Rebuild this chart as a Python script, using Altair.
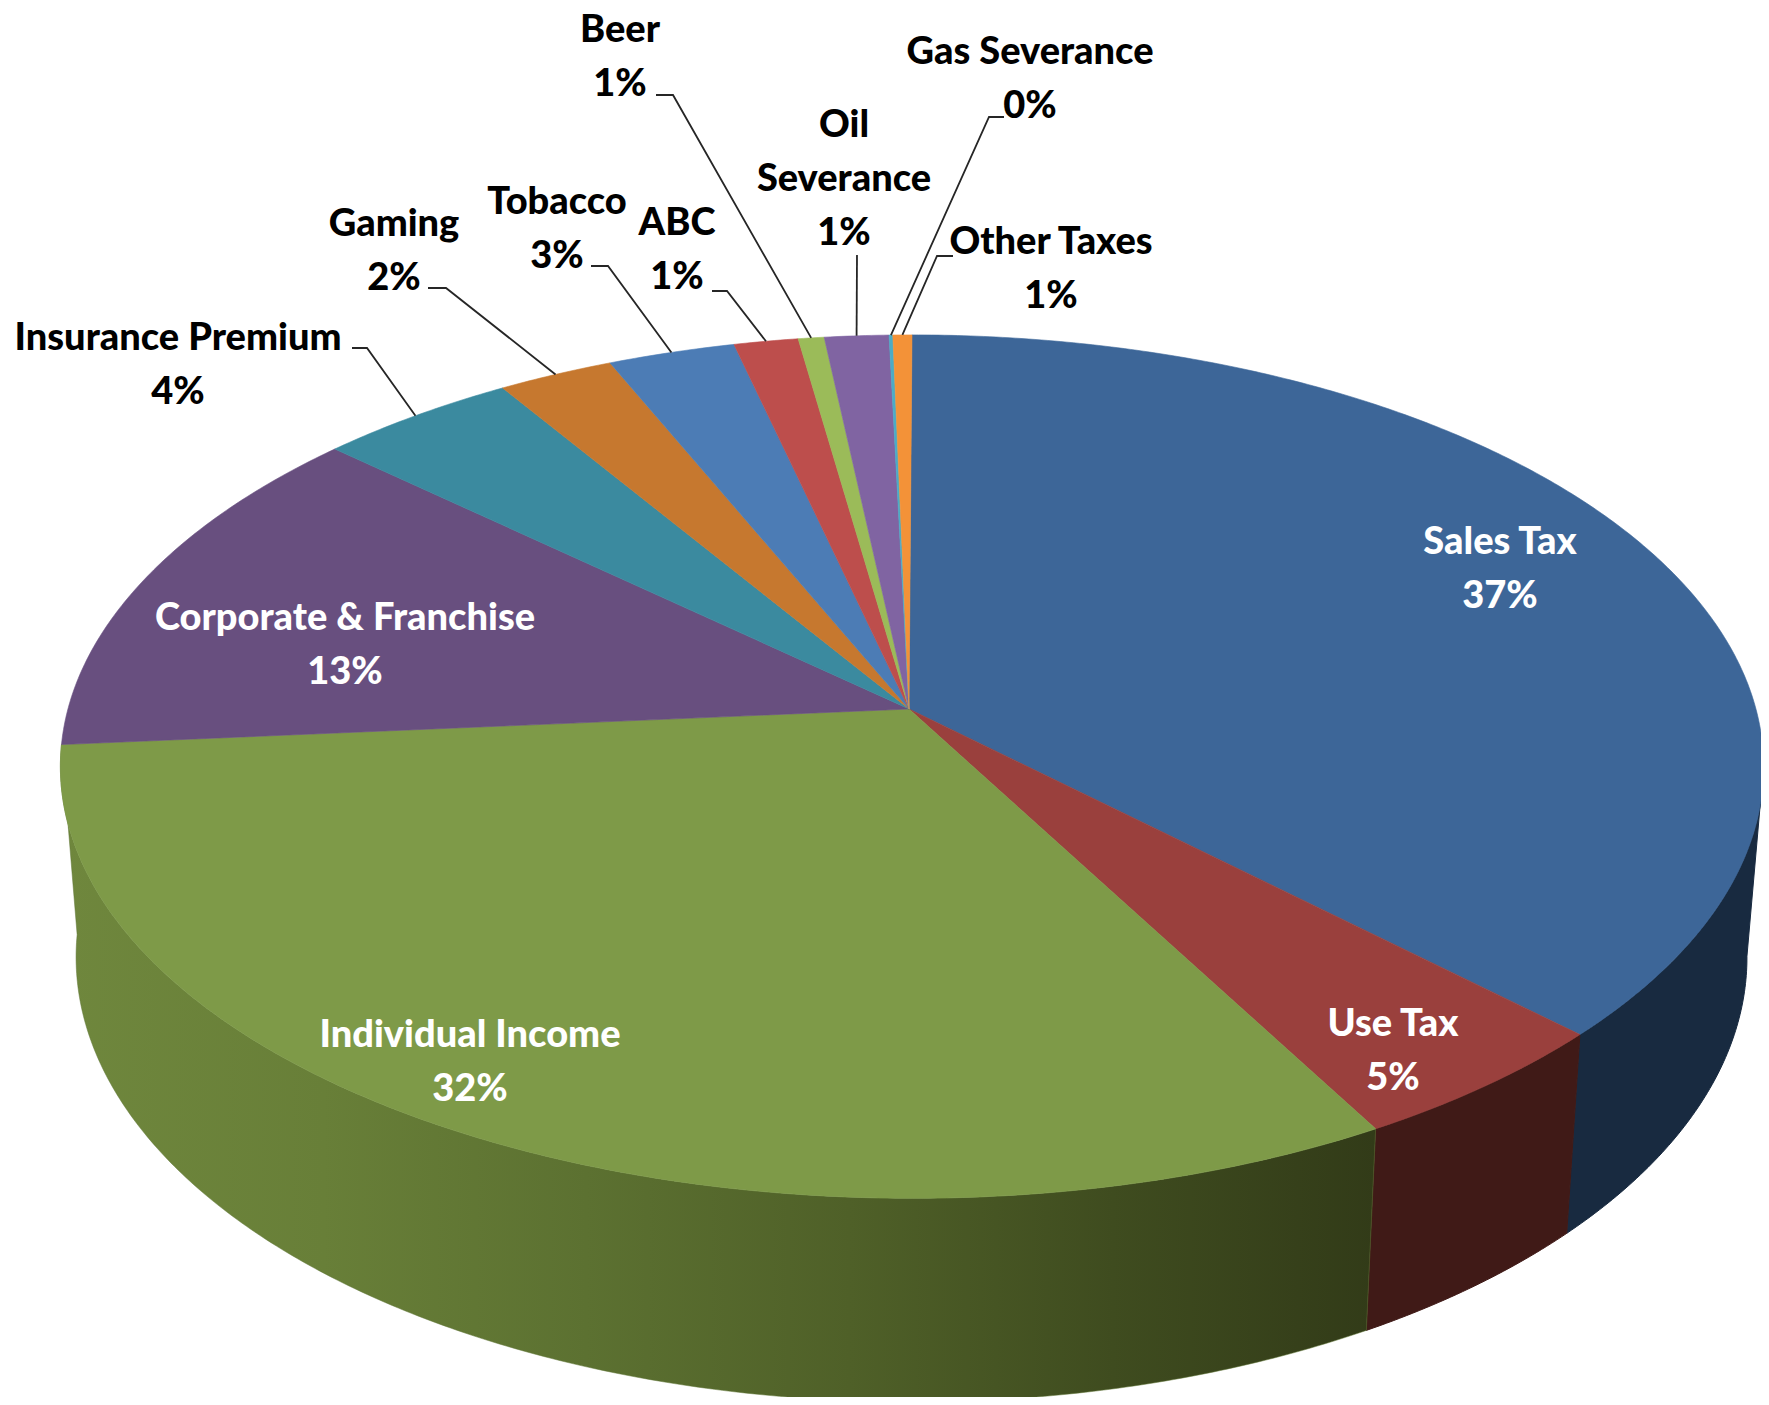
import numpy as np
import pandas as pd
import altair as alt

# ---- values
CATEGORIES = ["Sales Tax", "Use Tax", "Individual Income", "Corporate & Franchise",
              "Insurance Premium", "Gaming", "Tobacco", "ABC", "Beer",
              "Oil Severance", "Gas Severance", "Other Taxes"]
SHARES = [37.16, 4.67, 31.78, 13.0, 4.31, 2.5, 2.75, 1.39, 0.56, 1.39, 0.08, 0.41]
PERCENT_LABELS = ["37%", "5%", "32%", "13%", "4%", "2%", "3%", "1%", "1%", "1%", "0%", "1%"]

# ---- styles
TOP_COLORS = ["#3d6698", "#9a403d", "#7e9a48", "#684f7f", "#3b8a9f", "#c6782f",
              "#4c7cb5", "#bd4e4c", "#9bbb59", "#8064a2", "#4bacc6", "#f39238"]
SALES_WALL = "#182a40"
USE_WALL = "#401a17"
INCOME_WALL_STOPS = [(0.0, "#6f873d"), (0.2, "#687f38"), (0.4, "#5c7131"),
                     (0.6, "#4f6028"), (0.8, "#3f4c1f"), (1.0, "#323b18")]

# ---- layout (page pixels)
W, H = 1753, 1389
APEX = (909.0, 709.0)
RX, RY, K, M = 844.0, 424.0, 0.1334, 0.0035
START_DEG = 0.23
WALL_RIGHT_START = 97.5
FONT_SIZE = 38
LINE_GAP = 54
# label centre (x, y of first line); Oil Severance is wrapped on two lines
LABEL_POS = {
    "Sales Tax": (1500, 543, "white"), "Use Tax": (1393, 1025, "white"),
    "Individual Income": (470, 1036, "white"), "Corporate & Franchise": (345, 619, "white"),
    "Insurance Premium": (178, 339, "black"), "Gaming": (394, 225, "black"),
    "Tobacco": (557, 203, "black"), "ABC": (677, 224, "black"), "Beer": (620, 31, "black"),
    "Oil Severance": (844, 126, "black"), "Gas Severance": (1030, 53, "black"),
    "Other Taxes": (1051, 243, "black"),
}
# leader: horizontal stub start and elbow, the last leg goes to the slice's rim
LEADERS = {
    "Insurance Premium": [(352, 348), (367, 348)], "Gaming": [(428, 288), (446, 288)],
    "Tobacco": [(591, 266), (608, 266)], "ABC": [(712, 291), (727, 291)],
    "Beer": [(656, 95), (673, 95)], "Oil Severance": [(857, 255)],
    "Gas Severance": [(1004, 117), (989, 117)], "Other Taxes": [(953, 256), (937, 256)],
}

# ---- geometry derived from the shares
shares = np.array(SHARES) / np.sum(SHARES) * 360.0
edges = START_DEG + np.concatenate([[0.0], np.cumsum(shares)])


def top_xy(deg):
    t = np.radians(deg)
    u, v = np.sin(t), -np.cos(t)
    d = 1 - K * v - M * u
    return APEX[0] + RX * u / d, APEX[1] + RY * v / d


def bottom_xy(deg):
    x, y = top_xy(deg)
    return 911.5 + 0.981 * (x - 912.0), 898.0 + 1.03 * (y - APEX[1])


def arc_angles(a, b):
    n = max(3, int(abs(b - a) * 2) + 2)
    return np.linspace(a, b, n)


x_scale = alt.Scale(domain=[8, 8 + W], range=[0, W], nice=False, zero=False)
y_scale = alt.Scale(domain=[8 + H, 8], range=[H, 0], nice=False, zero=False)


def poly(points, **mark):
    df = pd.DataFrame(points, columns=["px", "py"])
    df["i"] = range(len(df))
    return alt.Chart(df).mark_line(**mark).encode(
        x=alt.X("px:Q", scale=x_scale, axis=None),
        y=alt.Y("py:Q", scale=y_scale, axis=None),
        order="i:Q",
    )


def wall(a, b):
    ang = arc_angles(a, b)
    pts = [top_xy(d) for d in ang] + [bottom_xy(d) for d in ang[::-1]]
    return pts + [pts[0]]


income_gradient = alt.LinearGradient(
    gradient="linear", x1=0, x2=1, y1=0, y2=0,
    stops=[alt.GradientStop(offset=o, color=c) for o, c in INCOME_WALL_STOPS],
)

layers = [
    poly(wall(WALL_RIGHT_START, edges[1]), fill=SALES_WALL, stroke=SALES_WALL, strokeWidth=1),
    poly(wall(edges[1], edges[2]), fill=USE_WALL, stroke=USE_WALL, strokeWidth=1),
    poly(wall(edges[2], edges[3]), fill=income_gradient, stroke="#5f7534", strokeWidth=0.5),
]

for idx, color in enumerate(TOP_COLORS):
    pts = [APEX] + [top_xy(d) for d in arc_angles(edges[idx], edges[idx + 1])] + [APEX]
    layers.append(poly(pts, fill=color, stroke=color, strokeWidth=0.6))

for name, stub in LEADERS.items():
    idx = CATEGORIES.index(name)
    rim = top_xy((edges[idx] + edges[idx + 1]) / 2)
    layers.append(poly(list(stub) + [rim], stroke="#262626", strokeWidth=1.8))

rows = []
for name, pct in zip(CATEGORIES, PERCENT_LABELS):
    x, y, col = LABEL_POS[name]
    lines = ["Oil", "Severance", pct] if name == "Oil Severance" else [name, pct]
    for j, line in enumerate(lines):
        rows.append({"label": line, "px": x, "py": y + j * LINE_GAP, "tone": col})
text_df = pd.DataFrame(rows)

labels = alt.Chart(text_df).mark_text(
    font="Lato", fontWeight=900, fontSize=FONT_SIZE, align="center", baseline="middle"
).encode(
    x=alt.X("px:Q", scale=x_scale, axis=None),
    y=alt.Y("py:Q", scale=y_scale, axis=None),
    text="label:N",
    color=alt.Color("tone:N", scale=None, legend=None),
)
layers.append(labels)

chart = alt.layer(*layers).properties(
    width=W, height=H, padding=0, autosize=alt.AutoSizeParams(type="none"),
    background="white",
).configure_view(stroke=None)

chart.save("out.html", embed_options={"renderer": "svg", "actions": False})
